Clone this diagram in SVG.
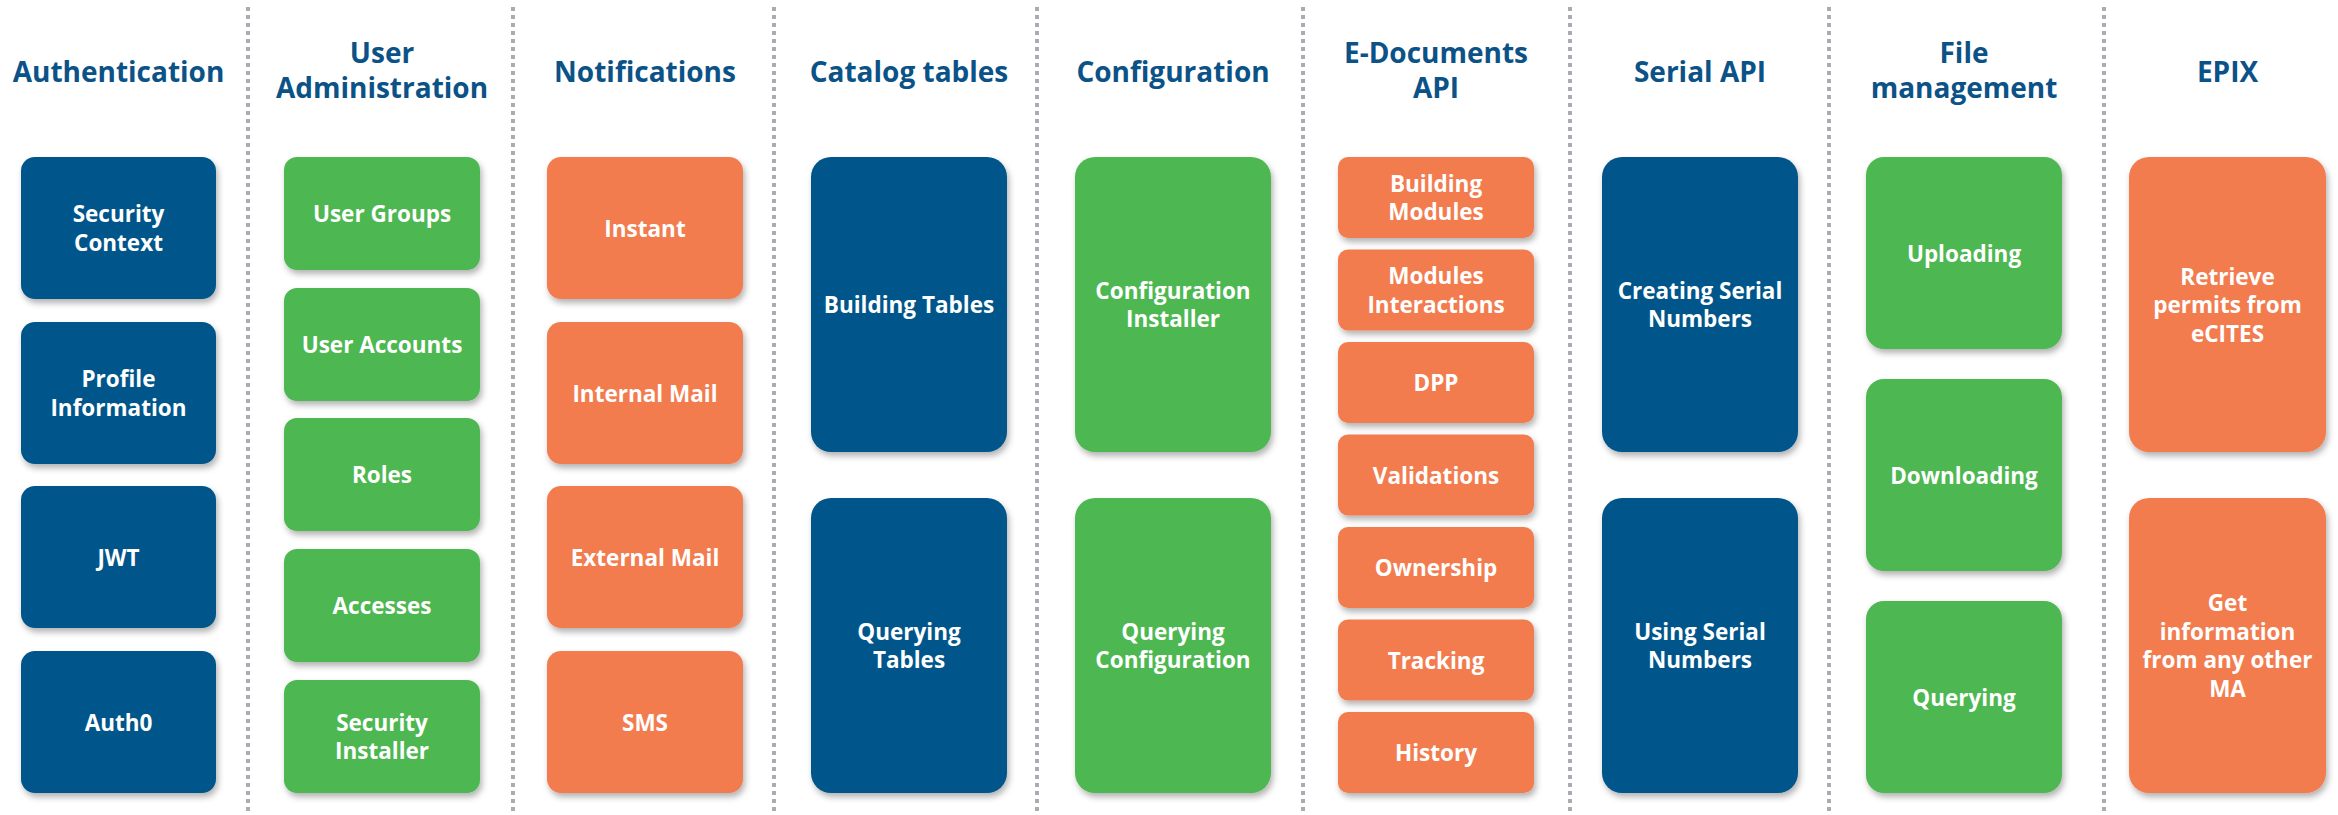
<svg xmlns="http://www.w3.org/2000/svg" width="2338" height="815" viewBox="0 0 2338 815">
<defs>
<filter id="sh" x="-10%" y="-10%" width="125%" height="125%">
<feDropShadow dx="2" dy="4" stdDeviation="3" flood-color="#000" flood-opacity="0.3"/>
</filter>
</defs>
<style>
.t{font-family:"Open Sans","Noto Sans","Liberation Sans",sans-serif;font-weight:700;font-size:28px;fill:#0B5287;text-anchor:middle}
.b{font-family:"Open Sans","Noto Sans","Liberation Sans",sans-serif;font-weight:700;font-size:22.5px;fill:#FFFFFF;text-anchor:middle}
.blue{fill:#02568A;filter:url(#sh)}
.green{fill:#4DB751;filter:url(#sh)}
.orange{fill:#F37B50;filter:url(#sh)}
.div{stroke:#A9ADB1;stroke-width:4;stroke-dasharray:4 4;fill:none}
</style>
<rect width="2338" height="815" fill="#FFFFFF"/>
<g id="dividers">
<line class="div" x1="248" y1="7" x2="248" y2="813"/>
<line class="div" x1="513" y1="7" x2="513" y2="813"/>
<line class="div" x1="774" y1="7" x2="774" y2="813"/>
<line class="div" x1="1037" y1="7" x2="1037" y2="813"/>
<line class="div" x1="1303" y1="7" x2="1303" y2="813"/>
<line class="div" x1="1570" y1="7" x2="1570" y2="813"/>
<line class="div" x1="1829" y1="7" x2="1829" y2="813"/>
<line class="div" x1="2104" y1="7" x2="2104" y2="813"/>
</g>
<g id="titles">
<text class="t" x="118.5" y="82">Authentication</text>
<text class="t" x="382" y="63">User</text>
<text class="t" x="382" y="98">Administration</text>
<text class="t" x="645" y="82">Notifications</text>
<text class="t" x="909" y="82">Catalog tables</text>
<text class="t" x="1173" y="82">Configuration</text>
<text class="t" x="1436" y="63">E-Documents</text>
<text class="t" x="1436" y="98">API</text>
<text class="t" x="1700" y="82">Serial API</text>
<text class="t" x="1964" y="63">File</text>
<text class="t" x="1964" y="98">management</text>
<text class="t" x="2227.5" y="82">EPIX</text>
</g>
<g id="auth-security-context"><rect class="blue" x="21" y="157" width="195" height="142" rx="14"/><text class="b" x="118.5" y="222.25">Security</text><text class="b" x="118.5" y="250.75">Context</text></g>
<g id="auth-profile-information"><rect class="blue" x="21" y="322" width="195" height="142" rx="14"/><text class="b" x="118.5" y="387.25">Profile</text><text class="b" x="118.5" y="415.75">Information</text></g>
<g id="auth-jwt"><rect class="blue" x="21" y="486" width="195" height="142" rx="14"/><text class="b" x="118.5" y="565.5">JWT</text></g>
<g id="auth-auth0"><rect class="blue" x="21" y="651" width="195" height="142" rx="14"/><text class="b" x="118.5" y="730.5">Auth0</text></g>

<g id="ua-user-groups"><rect class="green" x="284" y="157" width="196" height="113" rx="13"/><text class="b" x="382" y="222">User Groups</text></g>
<g id="ua-user-accounts"><rect class="green" x="284" y="288" width="196" height="113" rx="13"/><text class="b" x="382" y="353">User Accounts</text></g>
<g id="ua-roles"><rect class="green" x="284" y="418" width="196" height="113" rx="13"/><text class="b" x="382" y="483">Roles</text></g>
<g id="ua-accesses"><rect class="green" x="284" y="549" width="196" height="113" rx="13"/><text class="b" x="382" y="614">Accesses</text></g>
<g id="ua-security-installer"><rect class="green" x="284" y="680" width="196" height="113" rx="13"/><text class="b" x="382" y="730.75">Security</text><text class="b" x="382" y="759.25">Installer</text></g>

<g id="notif-instant"><rect class="orange" x="547" y="157" width="196" height="142" rx="14"/><text class="b" x="645" y="236.5">Instant</text></g>
<g id="notif-internal-mail"><rect class="orange" x="547" y="322" width="196" height="142" rx="14"/><text class="b" x="645" y="401.5">Internal Mail</text></g>
<g id="notif-external-mail"><rect class="orange" x="547" y="486" width="196" height="142" rx="14"/><text class="b" x="645" y="565.5">External Mail</text></g>
<g id="notif-sms"><rect class="orange" x="547" y="651" width="196" height="142" rx="14"/><text class="b" x="645" y="730.5">SMS</text></g>

<g id="cat-building-tables"><rect class="blue" x="811" y="157" width="196" height="295" rx="20"/><text class="b" x="909" y="313">Building Tables</text></g>
<g id="cat-querying-tables"><rect class="blue" x="811" y="498" width="196" height="295" rx="20"/><text class="b" x="909" y="639.75">Querying</text><text class="b" x="909" y="668.25">Tables</text></g>

<g id="cfg-installer"><rect class="green" x="1075" y="157" width="196" height="295" rx="20"/><text class="b" x="1173" y="298.75">Configuration</text><text class="b" x="1173" y="327.25">Installer</text></g>
<g id="cfg-querying"><rect class="green" x="1075" y="498" width="196" height="295" rx="20"/><text class="b" x="1173" y="639.75">Querying</text><text class="b" x="1173" y="668.25">Configuration</text></g>

<g id="ed-building-modules"><rect class="orange" x="1338" y="157" width="196" height="81" rx="10"/><text class="b" x="1436" y="191.75">Building</text><text class="b" x="1436" y="220.25">Modules</text></g>
<g id="ed-modules-interactions"><rect class="orange" x="1338" y="249.5" width="196" height="81" rx="10"/><text class="b" x="1436" y="284.25">Modules</text><text class="b" x="1436" y="312.75">Interactions</text></g>
<g id="ed-dpp"><rect class="orange" x="1338" y="342" width="196" height="81" rx="10"/><text class="b" x="1436" y="391">DPP</text></g>
<g id="ed-validations"><rect class="orange" x="1338" y="434.5" width="196" height="81" rx="10"/><text class="b" x="1436" y="483.5">Validations</text></g>
<g id="ed-ownership"><rect class="orange" x="1338" y="527" width="196" height="81" rx="10"/><text class="b" x="1436" y="576">Ownership</text></g>
<g id="ed-tracking"><rect class="orange" x="1338" y="619.5" width="196" height="81" rx="10"/><text class="b" x="1436" y="668.5">Tracking</text></g>
<g id="ed-history"><rect class="orange" x="1338" y="712" width="196" height="81" rx="10"/><text class="b" x="1436" y="761">History</text></g>

<g id="serial-creating"><rect class="blue" x="1602" y="157" width="196" height="295" rx="20"/><text class="b" x="1700" y="298.75">Creating Serial</text><text class="b" x="1700" y="327.25">Numbers</text></g>
<g id="serial-using"><rect class="blue" x="1602" y="498" width="196" height="295" rx="20"/><text class="b" x="1700" y="639.75">Using Serial</text><text class="b" x="1700" y="668.25">Numbers</text></g>

<g id="file-uploading"><rect class="green" x="1866" y="157" width="196" height="192" rx="18"/><text class="b" x="1964" y="261.5">Uploading</text></g>
<g id="file-downloading"><rect class="green" x="1866" y="379" width="196" height="192" rx="18"/><text class="b" x="1964" y="483.5">Downloading</text></g>
<g id="file-querying"><rect class="green" x="1866" y="601" width="196" height="192" rx="18"/><text class="b" x="1964" y="705.5">Querying</text></g>

<g id="epix-retrieve"><rect class="orange" x="2129" y="157" width="197" height="295" rx="20"/><text class="b" x="2227.5" y="284.5">Retrieve</text><text class="b" x="2227.5" y="313">permits from</text><text class="b" x="2227.5" y="341.5">eCITES</text></g>
<g id="epix-get-info"><rect class="orange" x="2129" y="498" width="197" height="295" rx="20"/><text class="b" x="2227.5" y="611.25">Get</text><text class="b" x="2227.5" y="639.75">information</text><text class="b" x="2227.5" y="668.25">from any other</text><text class="b" x="2227.5" y="696.75">MA</text></g>
</svg>
